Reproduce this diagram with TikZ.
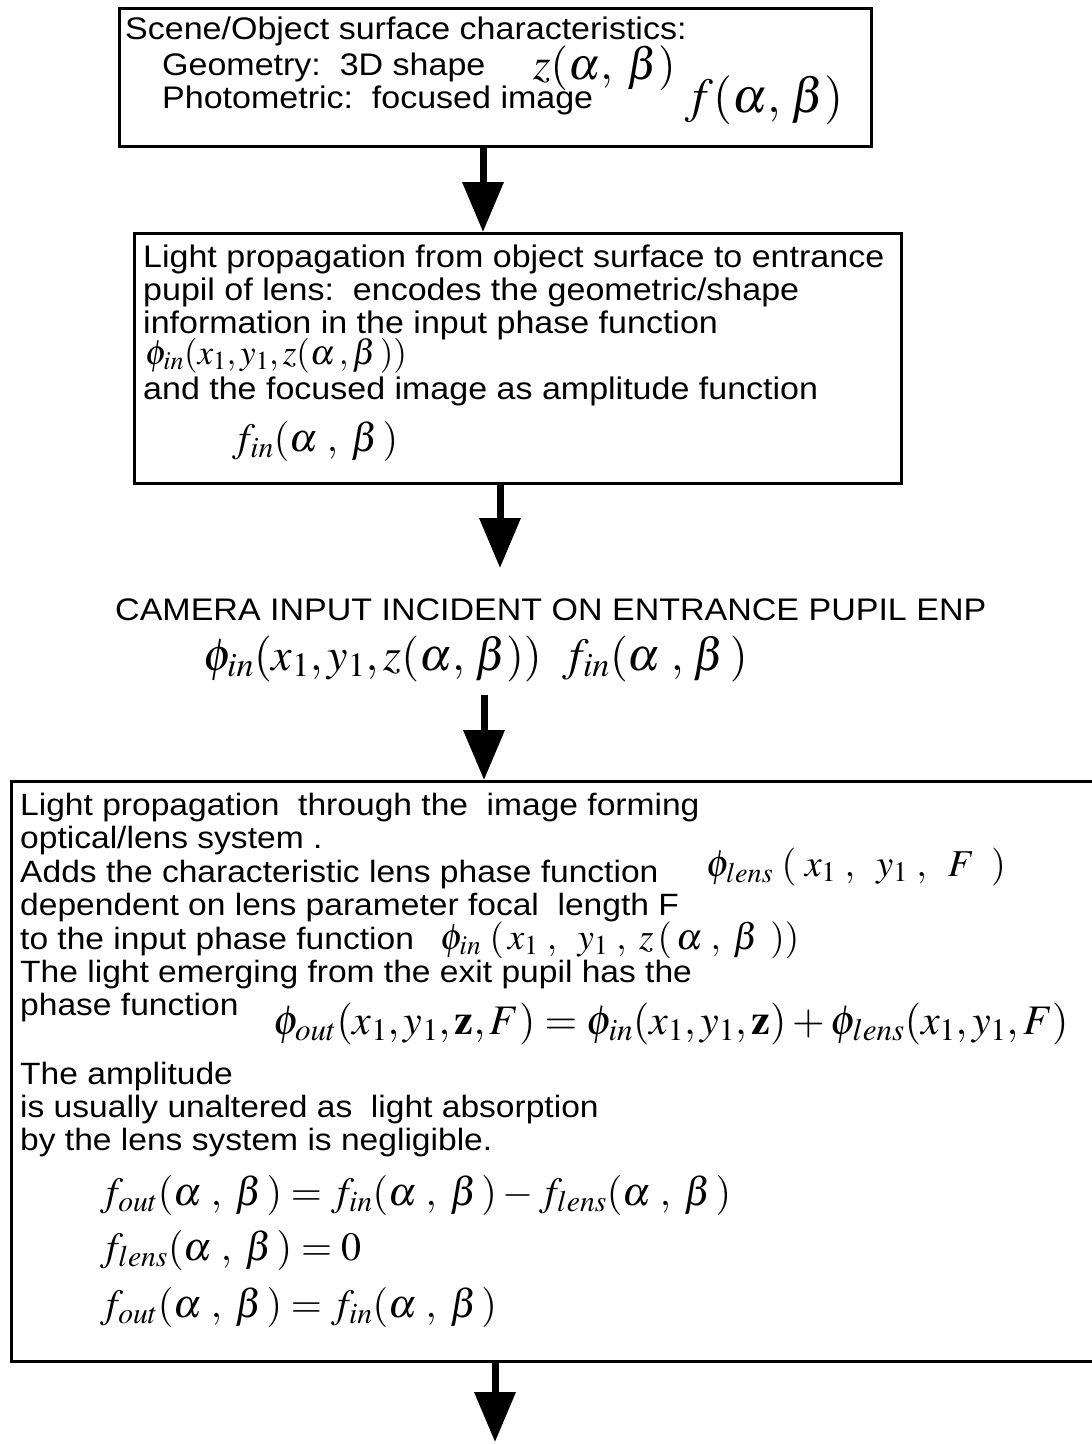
\documentclass[tikz,border=0pt]{standalone}
\usepackage{mathptmx}
\usepackage[no-math]{fontspec}
\setmainfont{Liberation Sans}[FakeStretch=1.09]
\usetikzlibrary{arrows.meta}
\newcommand\mysz[1]{\fontsize{#1}{#1}\selectfont}
\tikzset{
  boxst/.style={draw, line width=3pt, inner sep=0pt, anchor=north west},
  txt/.style={anchor=base west, inner sep=0pt, text height=22pt, text depth=6pt, font=\mysz{31.2}},
  txs/.style={txt, font=\mysz{30.8}},
  mth/.style={anchor=base west, inner sep=0pt, text height=30pt, text depth=10pt},
  arr/.style={line width=7pt, -{Triangle[width=40pt,length=50pt]}}
}
\begin{document}
\begin{tikzpicture}[x=1pt,y=-1pt]
\useasboundingbox (0,0) rectangle (1092,1444);
% boxes
\node[boxst, minimum width=752pt, minimum height=138pt] (b1) at (118,7) {};
\node[boxst, minimum width=767pt, minimum height=250pt] (b2) at (133,232) {};
\node[boxst, minimum width=1100pt, minimum height=580pt] (b3) at (10,780) {};
% box 1 text
\node[txt] (t11) at (125,39) {Scene/Object surface characteristics:};
\node[txt] (t12) at (162,75) {Geometry:\ \ 3D shape};
\node[txt] (t13) at (162,108) {Photometric:\ \ focused image};
\node[mth, text height=28pt] (m11) at (533,79) {\mysz{45}$z(\alpha,\;\beta)$};
\node[mth] (m12) at (685,112) {\mysz{49}$f(\alpha,\,\beta)$};
% box 2 text
\node[txt] (t21) at (143,267) {Light propagation from object surface to entrance};
\node[txt] (t22) at (143,300) {pupil of lens:\ \ encodes the geometric/shape};
\node[txt] (t23) at (143,333) {information in the input phase function};
\node[mth, text height=22pt] (m21) at (145,364) {\mysz{35}$\phi_{in}(x_1,y_1,z(\alpha\,,\beta\,))$};
\node[txt] (t24) at (143,399) {and the focused image as amplitude function};
\node[mth] (m22) at (232,451) {\mysz{40}$f_{in}(\alpha\;,\;\beta\,)$};
% camera input
\node[txt] (c1) at (115,620) {CAMERA INPUT INCIDENT ON ENTRANCE PUPIL ENP};
\node[mth, text height=34pt] (c2) at (203,670) {\mysz{46}$\phi_{in}(x_1,y_1,z(\alpha,\,\beta))\;\;f_{in}(\alpha\;,\,\beta\,)$};
% box 3 text
\node[txs] (t31) at (20,815) {Light propagation\ \ through the\ \ image forming};
\node[txs] (t32) at (20,848) {optical/lens system .};
\node[txs] (t33) at (20,882) {Adds the characteristic lens phase function};
\node[mth, text height=26pt] (m31) at (706,876) {\mysz{38}$\phi_{lens}\;(\;x_1\;,\;\;y_1\;,\;\;F\;\;)$};
\node[txs] (t34) at (20,915) {dependent on lens parameter focal\ \ length F};
\node[txs] (t35) at (20,949) {to the input phase function};
\node[mth, text height=25pt, text depth=9pt] (m32) at (440,949) {\mysz{37}$\phi_{in}\;(\,x_1\;,\;\;y_1\;,\;z\,(\,\alpha\;,\;\beta\;\,))$};
\node[txs] (t36) at (20,982) {The light emerging from the exit pupil has the};
\node[txs] (t37) at (20,1015) {phase function};
\node[mth] (m33) at (273,1034) {\mysz{42}$\phi_{out}(x_1,y_1,\mathbf{z},F)=\phi_{in}(x_1,y_1,\mathbf{z})+\phi_{lens}(x_1,y_1,F)$};
\node[txs] (t38) at (20,1084) {The amplitude};
\node[txs] (t39) at (20,1117) {is usually unaltered as\ \ light absorption};
\node[txs] (t3a) at (20,1150) {by the lens system is negligible.};
\node[mth] (m34) at (100,1205) {\mysz{40}$f_{out}(\alpha\;,\;\beta\,)=f_{in}(\alpha\;,\;\beta\,)-f_{lens}(\alpha\;,\;\beta\,)$};
\node[mth] (m35) at (100,1260) {\mysz{40}$f_{lens}(\alpha\;,\;\beta\,)=0$};
\node[mth] (m36) at (100,1317) {\mysz{40}$f_{out}(\alpha\;,\;\beta\,)=f_{in}(\alpha\;,\;\beta\,)$};
% arrow coordinates
\coordinate (ax1) at (483,0);
\coordinate (e2) at (500,568);
\coordinate (s3) at (484,695);
\coordinate (ax4) at (495,0);
\coordinate (e4) at (495,1442);
% arrows
\draw[arr] (b1.south -| ax1) -- (b2.north -| ax1);
\draw[arr] (b2.south -| e2) -- (e2);
\draw[arr] (s3) -- (b3.north -| s3);
\draw[arr] (b3.south -| ax4) -- (e4);
\end{tikzpicture}
\end{document}
